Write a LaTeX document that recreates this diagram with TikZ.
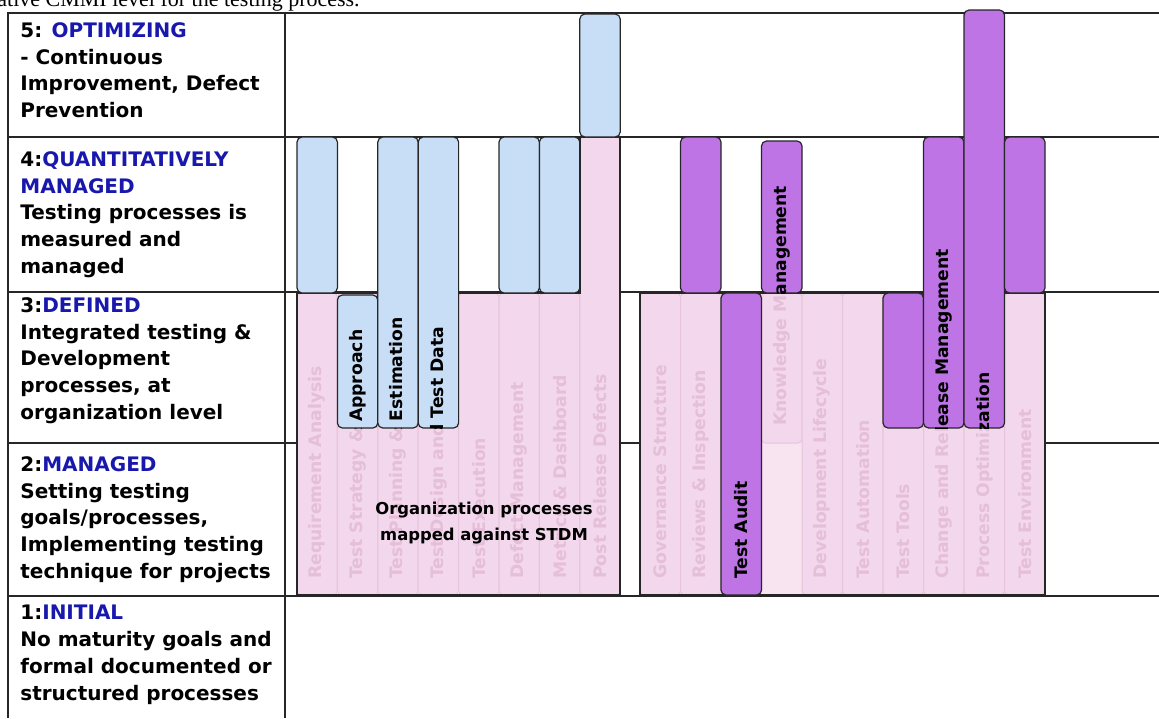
\documentclass[tikz,border=0pt]{standalone}
\usepackage{fontspec}
\setmainfont{DejaVu Sans}
\newfontfamily\capfont{Liberation Serif}
\definecolor{lvlblue}{RGB}{24,24,172}
\definecolor{colpink}{RGB}{243,215,236}
\definecolor{colpale}{RGB}{248,228,241}
\definecolor{coledge}{RGB}{230,196,220}
\definecolor{fadetext}{RGB}{229,190,216}
\definecolor{barblue}{RGB}{200,221,246}
\definecolor{barpurple}{RGB}{191,116,230}
\begin{document}
\begin{tikzpicture}[x=0.5pt, y=-0.5pt,
		rowline/.style={line width=0.8pt, draw=black!85},
		tableframe/.style={line width=1.3pt, draw=black!85},
		lvltext/.style={anchor=north west, inner sep=0pt, align=left,
			font=\fontsize{10}{13.4}\selectfont\bfseries},
		colbox/.style={rounded corners=2pt, fill=colpink, draw=coledge, line width=0.5pt},
		zone/.style={draw=black!85, line width=0.8pt},
		proc/.style={rotate=90, anchor=west, inner sep=0pt,
			font=\fontsize{8.6}{8.6}\selectfont\bfseries},
		fadelabel/.style={proc, text=fadetext},
		stdmbar/.style={rounded corners=2.5pt, draw=black!85, line width=0.6pt}
	]
	\useasboundingbox (0,0) rectangle (1159,718);
	% caption line, cut by the page edge
	\node[anchor=base west, inner sep=0pt, font=\capfont\fontsize{11}{11}\selectfont] (cap) at (-3,6)
		{ative CMMI level for the testing process.};
	% table
	\foreach \y in {137,292,443,596} \draw[rowline] (8,\y) -- (1159,\y);
	\draw[tableframe] (1159,13) -- (8,13) -- (8,718);
	\draw[tableframe] (285,13) -- (285,718);
	% maturity levels
	\node[lvltext] (L5) at (20,22) {5: \textcolor{lvlblue}{OPTIMIZING}\\- Continuous\\Improvement, Defect\\Prevention};
	\node[lvltext] (L4) at (20,151) {4:\textcolor{lvlblue}{QUANTITATIVELY}\\\textcolor{lvlblue}{MANAGED}\\Testing processes is\\measured and\\managed};
	\node[lvltext] (L3) at (20,297) {3:\textcolor{lvlblue}{DEFINED}\\Integrated testing \&\\Development\\processes, at\\organization level};
	\node[lvltext] (L2) at (20,456) {2:\textcolor{lvlblue}{MANAGED}\\Setting testing\\goals/processes,\\Implementing testing\\technique for projects};
	\node[lvltext] (L1) at (20,605) {1:\textcolor{lvlblue}{INITIAL}\\No maturity goals and\\formal documented or\\structured processes};
	% testing processes
	\foreach \i/\t/\n [evaluate=\i as \xa using 297+40.4*\i] in {0/293/Requirement Analysis,
			1/293/Test Strategy \& Approach, 2/293/Test Planning \& Estimation, 3/293/Test Design and Test Data,
			4/293/Test Execution, 5/293/Defect Management, 6/293/Metrics \& Dashboard, 7/137/Post Release Defects}{
		\draw[colbox] (\xa,\t) rectangle (\xa+40.4,595);
		\node[fadelabel] (f1\i) at (\xa+20.2,579) {\n};
	}
	\draw[zone] (297,293) -- (579.8,293) -- (579.8,137) -- (620.2,137) -- (620.2,595) -- (297,595) -- cycle;
	% organization processes
	\fill[colpale] (640,293) rectangle (1045,595);
	\foreach \i/\b/\s/\n [evaluate=\i as \xa using 640+40.5*\i] in {0/595/579/Governance Structure,
			1/595/579/Reviews \& Inspection, 2/595/579/Test Audit, 3/443/426/Knowledge Management,
			4/595/579/Development Lifecycle, 5/595/579/Test Automation, 6/595/579/Test Tools,
			7/595/579/Change and Release Management, 8/595/579/Process Optimization, 9/595/579/Test Environment}{
		\draw[colbox] (\xa,293) rectangle (\xa+40.5,\b);
		\node[fadelabel] (f2\i) at (\xa+20.25,\s) {\n};
	}
	\draw[zone] (640,293) rectangle (1045,595);
	\node[font=\fontsize{8.2}{13}\selectfont\bfseries, align=center] (orgnote) at (484,523)
		{Organization processes\\mapped against STDM};
	% STDM levels reached
	\foreach \k/\xa/\ya/\xb/\yb/\s/\n in {1/297/137/337.4/293/579/Requirement Analysis,
			2/337.4/295/377.8/428/579/Test Strategy \& Approach, 3/377.8/137/418.2/428/579/Test Planning \& Estimation,
			4/418.2/137/458.6/428/579/Test Design and Test Data, 5/499/137/539.4/293/579/Defect Management,
			6/539.4/137/579.8/293/579/Metrics \& Dashboard, 7/579.8/14/620.2/137/579/Post Release Defects}{
		\draw[stdmbar, fill=barblue] (\xa,\ya) rectangle (\xb,\yb);
		\begin{scope}
			\clip[rounded corners=2.5pt] (\xa,\ya) rectangle (\xb,\yb);
			\node[proc] (b1\k) at ({(\xa+\xb)/2},\s) {\n};
		\end{scope}
	}
	\foreach \k/\xa/\ya/\xb/\yb/\s/\n in {1/680.5/137/721/293/579/Reviews \& Inspection,
			2/721/293/761.5/595/579/Test Audit, 3/761.5/141/802/293/426/Knowledge Management,
			4/883/293/923.5/428/579/Test Tools, 5/923.5/137/964/428/579/Change and Release Management,
			6/964/10/1004.5/428/579/Process Optimization, 7/1004.5/137/1045/293/579/Test Environment}{
		\draw[stdmbar, fill=barpurple] (\xa,\ya) rectangle (\xb,\yb);
		\begin{scope}
			\clip[rounded corners=2.5pt] (\xa,\ya) rectangle (\xb,\yb);
			\node[proc] (b2\k) at ({(\xa+\xb)/2},\s) {\n};
		\end{scope}
	}
\end{tikzpicture}
\end{document}
